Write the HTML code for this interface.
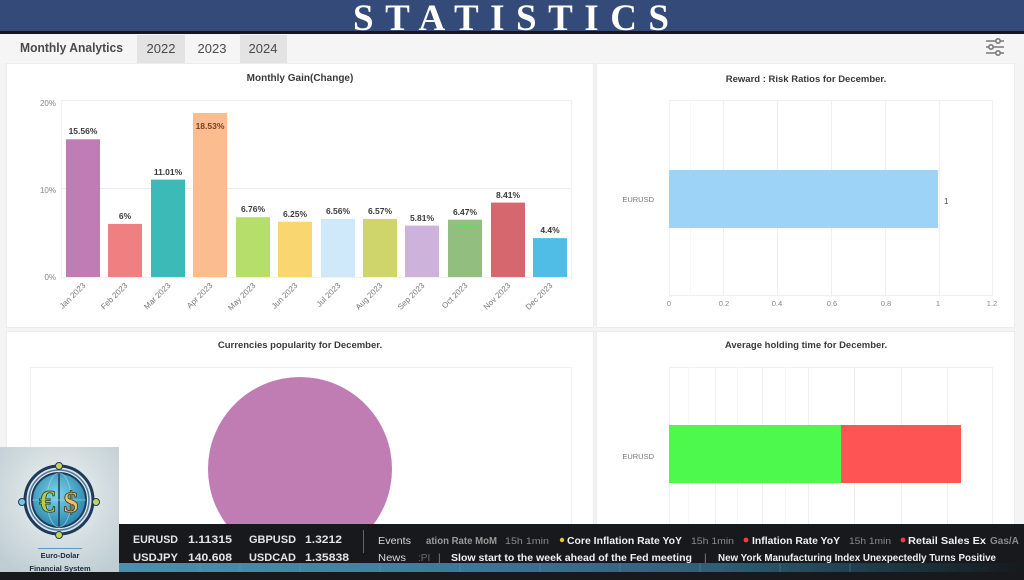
<!DOCTYPE html>
<html>
<head>
<meta charset="utf-8">
<style>
html,body{margin:0;padding:0;background:#f4f4f4;}
body{width:1024px;height:580px;overflow:hidden;position:relative;}
svg{display:block;font-family:"Liberation Sans",sans-serif;}
</style>
</head>
<body>
<svg width="1024" height="580" viewBox="0 0 1024 580" xmlns="http://www.w3.org/2000/svg">
  <defs>
    <linearGradient id="strip" x1="0" y1="0" x2="1" y2="0">
      <stop offset="0" stop-color="#4d95bd"/>
      <stop offset="0.35" stop-color="#3f84a6"/>
      <stop offset="0.7" stop-color="#2c5f78"/>
      <stop offset="0.92" stop-color="#1a2c34"/>
      <stop offset="1" stop-color="#16191c"/>
    </linearGradient>
    <radialGradient id="logobg" cx="0.5" cy="0.4" r="0.7">
      <stop offset="0" stop-color="#eef3f4"/>
      <stop offset="1" stop-color="#bfcdd2"/>
    </radialGradient>
    <radialGradient id="globe" cx="0.45" cy="0.4" r="0.6">
      <stop offset="0" stop-color="#7fd6ea"/>
      <stop offset="1" stop-color="#2a86ad"/>
    </radialGradient>
  </defs>

  <!-- page background -->
  <rect x="0" y="0" width="1024" height="580" fill="#f4f4f4"/>

  <!-- header -->
  <rect x="0" y="0" width="1024" height="32" fill="#344a79"/>
  <rect x="0" y="31" width="1024" height="3" fill="#15171c"/>
  <text x="353" y="30" font-family="Liberation Serif, serif" font-weight="bold" font-size="37" fill="#ffffff" textLength="316" lengthAdjust="spacing">STATISTICS</text>

  <!-- tabs row -->
  <rect x="0" y="34" width="1024" height="29" fill="#f5f5f5"/>
  <text x="20" y="52" font-size="13" font-weight="bold" fill="#4a4a4a" textLength="103" lengthAdjust="spacingAndGlyphs">Monthly Analytics</text>
  <rect x="137" y="35" width="48" height="28" fill="#e3e3e3"/>
  <rect x="240" y="35" width="47" height="28" fill="#e3e3e3"/>
  <text x="161" y="53" font-size="13" fill="#4a4a4a" text-anchor="middle">2022</text>
  <text x="212" y="53" font-size="13" fill="#4a4a4a" text-anchor="middle">2023</text>
  <text x="263" y="53" font-size="13" fill="#4a4a4a" text-anchor="middle">2024</text>
  <!-- filter icon -->
  <g stroke="#7a7a7a" stroke-width="1.6" fill="#f5f5f5">
    <line x1="986" y1="41" x2="1004" y2="41"/>
    <line x1="986" y1="47" x2="1004" y2="47"/>
    <line x1="986" y1="53" x2="1004" y2="53"/>
    <circle cx="998" cy="41" r="2.2"/>
    <circle cx="991" cy="47" r="2.2"/>
    <circle cx="998" cy="53" r="2.2"/>
  </g>

  <!-- panels -->
  <rect x="6.5" y="63.5" width="587" height="264" fill="#ffffff" stroke="#ececec"/>
  <rect x="596.5" y="63.5" width="418" height="264" fill="#ffffff" stroke="#ececec"/>
  <rect x="6.5" y="331.5" width="587" height="200" fill="#ffffff" stroke="#ececec"/>
  <rect x="596.5" y="331.5" width="418" height="200" fill="#ffffff" stroke="#ececec"/>

  <!-- ===== Monthly Gain chart ===== -->
  <text x="300" y="81" font-size="10" font-weight="bold" fill="#3a3a3a" text-anchor="middle">Monthly Gain(Change)</text>
  <rect x="61.5" y="100.5" width="510" height="177" fill="#ffffff" stroke="#f0f0f0"/>
  <line x1="61" y1="188.5" x2="571" y2="188.5" stroke="#ececec"/>
  <line x1="61" y1="100.5" x2="571" y2="100.5" stroke="#f0f0f0"/>
  <g font-size="8" fill="#888" text-anchor="end">
    <text x="56" y="106">20%</text>
    <text x="56" y="193">10%</text>
    <text x="56" y="280">0%</text>
  </g>
  <g>
    <rect x="66" y="139.3" width="34" height="137.7" fill="#c07db5"/>
    <rect x="108" y="223.9" width="34" height="53.1" fill="#f07f81"/>
    <rect x="151" y="179.6" width="34" height="97.4" fill="#3bbab7"/>
    <rect x="193" y="113" width="34" height="164" fill="#fbbd8f"/>
    <rect x="236" y="217.2" width="34" height="59.8" fill="#b5de6b"/>
    <rect x="278" y="221.7" width="34" height="55.3" fill="#f9d66f"/>
    <rect x="321" y="218.9" width="34" height="58.1" fill="#cfe9fa"/>
    <rect x="363" y="218.9" width="34" height="58.1" fill="#cfd46b"/>
    <rect x="405" y="225.6" width="34" height="51.4" fill="#cdb3db"/>
    <rect x="448" y="219.7" width="34" height="57.3" fill="#92bf80"/>
    <rect x="491" y="202.6" width="34" height="74.4" fill="#d6676f"/>
    <rect x="533" y="238.1" width="34" height="38.9" fill="#4fbde6"/>
    <line x1="453" y1="226" x2="479" y2="227" stroke="#5ee05a" stroke-width="1"/>
  </g>
  <g font-size="8.5" font-weight="bold" fill="#3a3a3a" text-anchor="middle">
    <text x="83" y="134">15.56%</text>
    <text x="125" y="219">6%</text>
    <text x="168" y="175">11.01%</text>
    <text x="210" y="129" fill="#7a4020">18.53%</text>
    <text x="253" y="212">6.76%</text>
    <text x="295" y="217">6.25%</text>
    <text x="338" y="214">6.56%</text>
    <text x="380" y="214">6.57%</text>
    <text x="422" y="221">5.81%</text>
    <text x="465" y="215">6.47%</text>
    <text x="508" y="198">8.41%</text>
    <text x="550" y="233">4.4%</text>
  </g>
  <g font-size="8" fill="#777" text-anchor="end">
    <text transform="translate(86,286) rotate(-45)">Jan 2023</text>
    <text transform="translate(128,286) rotate(-45)">Feb 2023</text>
    <text transform="translate(171,286) rotate(-45)">Mar 2023</text>
    <text transform="translate(213,286) rotate(-45)">Apr 2023</text>
    <text transform="translate(256,286) rotate(-45)">May 2023</text>
    <text transform="translate(298,286) rotate(-45)">Jun 2023</text>
    <text transform="translate(341,286) rotate(-45)">Jul 2023</text>
    <text transform="translate(383,286) rotate(-45)">Aug 2023</text>
    <text transform="translate(425,286) rotate(-45)">Sep 2023</text>
    <text transform="translate(468,286) rotate(-45)">Oct 2023</text>
    <text transform="translate(511,286) rotate(-45)">Nov 2023</text>
    <text transform="translate(553,286) rotate(-45)">Dec 2023</text>
  </g>

  <!-- ===== Reward : Risk chart ===== -->
  <text x="806" y="82" font-size="9.5" font-weight="bold" fill="#3a3a3a" text-anchor="middle">Reward : Risk Ratios for December.</text>
  <rect x="669.5" y="100.5" width="323" height="195" fill="#ffffff" stroke="#f0f0f0"/>
  <g stroke="#efefef">
    <line x1="690.5" y1="100" x2="690.5" y2="296" stroke="#f7f7f7"/>
    <line x1="723.5" y1="100" x2="723.5" y2="296"/>
    <line x1="777.5" y1="100" x2="777.5" y2="296"/>
    <line x1="831.5" y1="100" x2="831.5" y2="296"/>
    <line x1="885.5" y1="100" x2="885.5" y2="296"/>
    <line x1="939.5" y1="100" x2="939.5" y2="296"/>
  </g>
  <rect x="669" y="170" width="269" height="58" fill="#9dd3f7"/>
  <text x="654" y="202" font-size="7.5" fill="#777" text-anchor="end">EURUSD</text>
  <text x="944" y="204" font-size="8" fill="#444">1</text>
  <g font-size="7.5" fill="#888" text-anchor="middle">
    <text x="669" y="306">0</text>
    <text x="724" y="306">0.2</text>
    <text x="777" y="306">0.4</text>
    <text x="832" y="306">0.6</text>
    <text x="886" y="306">0.8</text>
    <text x="938" y="306">1</text>
    <text x="992" y="306">1.2</text>
  </g>

  <!-- ===== Currencies popularity ===== -->
  <text x="300" y="348" font-size="9.5" font-weight="bold" fill="#3a3a3a" text-anchor="middle">Currencies popularity for December.</text>
  <rect x="30.5" y="367.5" width="541" height="170" fill="#ffffff" stroke="#f0f0f0"/>
  <circle cx="300" cy="469" r="92" fill="#c07db4"/>

  <!-- ===== Average holding time ===== -->
  <text x="806" y="348" font-size="9.5" font-weight="bold" fill="#3a3a3a" text-anchor="middle">Average holding time for December.</text>
  <rect x="669.5" y="367.5" width="323" height="170" fill="#ffffff" stroke="#f0f0f0"/>
  <g stroke="#efefef">
    <line x1="715.5" y1="367" x2="715.5" y2="524"/>
    <line x1="762.5" y1="367" x2="762.5" y2="524"/>
    <line x1="808.5" y1="367" x2="808.5" y2="524"/>
    <line x1="854.5" y1="367" x2="854.5" y2="524"/>
    <line x1="901.5" y1="367" x2="901.5" y2="524"/>
    <line x1="947.5" y1="367" x2="947.5" y2="524"/>
  </g>
  <g stroke="#f7f7f7">
    <line x1="688.5" y1="367" x2="688.5" y2="524"/>
    <line x1="737.5" y1="367" x2="737.5" y2="524"/>
    <line x1="785.5" y1="367" x2="785.5" y2="524"/>
  </g>
  <rect x="669" y="425" width="172" height="58" fill="#4df94d"/>
  <rect x="841" y="425" width="120" height="58" fill="#fe5454"/>
  <text x="654" y="459" font-size="7.5" fill="#777" text-anchor="end">EURUSD</text>

  <!-- ===== Ticker ===== -->
  <rect x="0" y="524" width="1024" height="56" fill="#18191d"/>
  <rect x="0" y="563" width="1024" height="9" fill="url(#strip)"/>
  <g stroke="#5fa6cc" stroke-opacity="0.35" stroke-width="1">
    <line x1="200" y1="563" x2="200" y2="572"/><line x1="240" y1="563" x2="240" y2="572"/>
    <line x1="300" y1="563" x2="300" y2="572"/><line x1="380" y1="563" x2="380" y2="572"/>
    <line x1="460" y1="563" x2="460" y2="572"/><line x1="540" y1="563" x2="540" y2="572"/>
    <line x1="620" y1="563" x2="620" y2="572"/><line x1="700" y1="563" x2="700" y2="572"/>
    <line x1="780" y1="563" x2="780" y2="572"/><line x1="850" y1="563" x2="850" y2="572"/>
  </g>
  <g font-size="11" font-weight="bold" fill="#e4e4e4">
    <text x="133" y="543" textLength="45" lengthAdjust="spacingAndGlyphs">EURUSD</text>
    <text x="188" y="543" textLength="44" lengthAdjust="spacingAndGlyphs">1.11315</text>
    <text x="249" y="543" textLength="47" lengthAdjust="spacingAndGlyphs">GBPUSD</text>
    <text x="305" y="543" textLength="37" lengthAdjust="spacingAndGlyphs">1.3212</text>
    <text x="133" y="561" textLength="45" lengthAdjust="spacingAndGlyphs">USDJPY</text>
    <text x="188" y="561" textLength="44" lengthAdjust="spacingAndGlyphs">140.608</text>
    <text x="249" y="561" textLength="47" lengthAdjust="spacingAndGlyphs">USDCAD</text>
    <text x="305" y="561" textLength="44" lengthAdjust="spacingAndGlyphs">1.35838</text>
  </g>
  <line x1="363.5" y1="530" x2="363.5" y2="553" stroke="#666"/>
  <g font-size="10">
    <text x="378" y="544" fill="#d8d8d8" textLength="33" lengthAdjust="spacingAndGlyphs">Events</text>
    <text x="426" y="544" fill="#9a9a9a" font-weight="bold" textLength="71" lengthAdjust="spacingAndGlyphs">ation Rate MoM</text>
    <text x="505" y="544" fill="#8a8a8a" font-size="9" textLength="44" lengthAdjust="spacingAndGlyphs">15h 1min</text>
    <circle cx="562" cy="540" r="2.2" fill="#f2c230"/>
    <text x="567" y="544" fill="#f0f0f0" font-weight="bold" textLength="115" lengthAdjust="spacingAndGlyphs">Core Inflation Rate YoY</text>
    <text x="691" y="544" fill="#8a8a8a" font-size="9" textLength="43" lengthAdjust="spacingAndGlyphs">15h 1min</text>
    <circle cx="746" cy="540" r="2.4" fill="#e8403a"/>
    <text x="752" y="544" fill="#f0f0f0" font-weight="bold" textLength="88" lengthAdjust="spacingAndGlyphs">Inflation Rate YoY</text>
    <text x="849" y="544" fill="#8a8a8a" font-size="9" textLength="42" lengthAdjust="spacingAndGlyphs">15h 1min</text>
    <circle cx="903" cy="540" r="2.4" fill="#e8403a"/>
    <text x="908" y="544" fill="#f0f0f0" font-weight="bold" textLength="78" lengthAdjust="spacingAndGlyphs">Retail Sales Ex</text>
    <text x="990" y="544" fill="#8a8a8a" font-weight="bold">Gas/A</text>

    <text x="378" y="561" fill="#d8d8d8" textLength="28" lengthAdjust="spacingAndGlyphs">News</text>
    <text x="418" y="561" fill="#6a6a6a">:PI</text>
    <text x="438" y="561" fill="#888">|</text>
    <text x="451" y="561" fill="#f0f0f0" font-weight="bold" textLength="241" lengthAdjust="spacingAndGlyphs">Slow start to the week ahead of the Fed meeting</text>
    <text x="704" y="561" fill="#888">|</text>
    <text x="718" y="561" fill="#f0f0f0" font-weight="bold" textLength="278" lengthAdjust="spacingAndGlyphs">New York Manufacturing Index Unexpectedly Turns Positive</text>
  </g>

  <!-- ===== Logo ===== -->
  <rect x="0" y="447" width="119" height="125" fill="url(#logobg)"/>
  <g>
    <circle cx="59" cy="500" r="34" fill="none" stroke="#1f3a58" stroke-width="3"/>
    <circle cx="59" cy="500" r="30" fill="none" stroke="#4a7aa0" stroke-width="1.5"/>
    <circle cx="59" cy="500" r="27" fill="url(#globe)" stroke="#1f3a58" stroke-width="2"/>
    <line x1="59" y1="473" x2="59" y2="527" stroke="#1f3a58" stroke-width="1.5"/>
    <ellipse cx="59" cy="500" rx="12" ry="27" fill="none" stroke="#a8e0f0" stroke-width="0.8" opacity="0.7"/>
    <line x1="32" y1="500" x2="86" y2="500" stroke="#a8e0f0" stroke-width="0.8" opacity="0.7"/>
    <circle cx="59" cy="466" r="3.5" fill="#c8d35a" stroke="#1f3a58" stroke-width="1"/>
    <circle cx="59" cy="535" r="3.5" fill="#c8d35a" stroke="#1f3a58" stroke-width="1"/>
    <circle cx="22" cy="502" r="3.5" fill="#7cc6e0" stroke="#1f3a58" stroke-width="1"/>
    <circle cx="96" cy="502" r="3.5" fill="#c8d35a" stroke="#1f3a58" stroke-width="1"/>
    <text x="47" y="512" font-family="Liberation Serif, serif" font-size="32" font-weight="bold" fill="#b9cc4a" stroke="#2c3d1a" stroke-width="0.8" text-anchor="middle">€</text>
    <text x="71" y="512" font-family="Liberation Serif, serif" font-size="30" font-weight="bold" fill="#e9c26e" stroke="#4a3510" stroke-width="0.8" text-anchor="middle">$</text>
  </g>
  <line x1="38" y1="548.5" x2="82" y2="548.5" stroke="#5a9ac0" stroke-width="1"/>
  <text x="60" y="558" font-size="7.5" font-weight="bold" fill="#1c2a3e" text-anchor="middle">Euro-Dolar</text>
  <text x="60" y="571" font-size="7.5" font-weight="bold" fill="#1c2a3e" text-anchor="middle">Financial System</text>
</svg>
</body>
</html>
